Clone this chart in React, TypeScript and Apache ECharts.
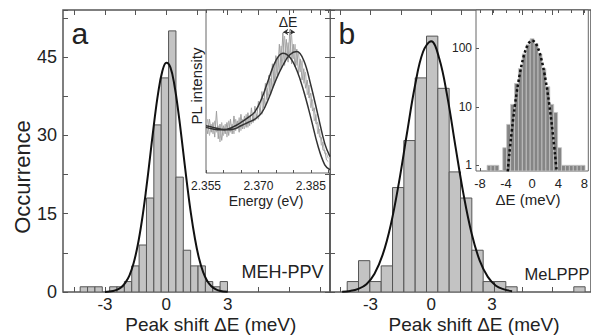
import React, { useEffect, useRef } from "react";
import * as echarts from "echarts";

// ---------- Panel a (MEH-PPV) histogram ----------
const aBinWidth = 0.36;
const aCenters = [-4.03, -3.67, -3.31, -2.95, -2.59, -2.23, -1.87, -1.51, -1.15, -0.79, -0.43, -0.07, 0.29, 0.65, 1.01, 1.37, 1.73, 2.09, 2.45, 2.81];
const aCounts = [1, 1, 1, 0, 1, 1, 2, 5, 9, 18, 32, 41, 50, 22, 8, 5, 5, 2, 1, 2];
// Gaussian fit
const aFitX = [-3.0, -2.6, -2.4, -2.2, -2.0, -1.8, -1.6, -1.4, -1.2, -1.0, -0.8, -0.6, -0.4, -0.2, 0, 0.2, 0.4, 0.6, 0.8, 1.0, 1.2, 1.4, 1.6, 1.8, 2.0, 2.2, 2.4, 2.6, 3.0];
const aFitY = [0.02, 0.2, 0.44, 0.9, 1.8, 3.2, 5.5, 8.9, 13.5, 19.2, 25.7, 32.3, 38.1, 42.2, 43.9, 43.0, 39.5, 34.1, 27.7, 21.1, 15.1, 10.2, 6.4, 3.8, 2.1, 1.1, 0.55, 0.25, 0.03];

// ---------- Panel b (MeLPPP) histogram ----------
const bBinWidth = 0.56;
const bCenters = [-3.87, -3.31, -2.75, -2.19, -1.63, -1.07, -0.51, 0.05, 0.61, 1.17, 1.73, 2.29, 2.85, 3.41, 3.97, 7.33];
const bCounts = [2, 6, 2, 5, 20, 29, 41, 49, 39, 23, 18, 8, 2, 2, 1, 1];
const bFitX = [-4.4, -4.0, -3.6, -3.2, -2.8, -2.4, -2.0, -1.6, -1.2, -0.8, -0.4, 0, 0.4, 0.8, 1.2, 1.6, 2.0, 2.4, 2.8, 3.2, 3.6, 4.0];
const bFitY = [0.07, 0.2, 0.6, 1.5, 3.5, 7.1, 12.8, 20.8, 30.3, 39.5, 46.0, 48.0, 44.7, 37.4, 27.9, 18.7, 11.2, 6.0, 2.9, 1.2, 0.5, 0.16];

// ---------- Inset a: PL spectra ----------
const specStart = 2.355;
const specStep = 0.0005;
const specNoisy = [
  0.30, 0.24, 0.33, 0.25, 0.31, 0.22, 0.38, 0.21, 0.30, 0.20,
  0.29, 0.24, 0.31, 0.23, 0.33, 0.24, 0.35, 0.26, 0.32, 0.25,
  0.36, 0.27, 0.35, 0.28, 0.37, 0.29, 0.40, 0.31, 0.41, 0.33,
  0.44, 0.36, 0.50, 0.40, 0.55, 0.45, 0.60, 0.48, 0.67, 0.54,
  0.72, 0.60, 0.79, 0.64, 0.86, 0.66, 0.82, 0.68, 0.88, 0.67,
  0.79, 0.65, 0.76, 0.61, 0.70, 0.57, 0.64, 0.52, 0.57, 0.46,
  0.49, 0.38, 0.40, 0.30, 0.31, 0.22, 0.22, 0.14, 0.14, 0.08, 0.07,
];
const specNoisy2 = [
  0.27, 0.33, 0.23, 0.30, 0.24, 0.32, 0.25, 0.29, 0.19, 0.31,
  0.23, 0.30, 0.22, 0.32, 0.25, 0.30, 0.24, 0.33, 0.27, 0.34,
  0.26, 0.33, 0.27, 0.36, 0.28, 0.35, 0.30, 0.37, 0.32, 0.36,
  0.33, 0.40, 0.36, 0.46, 0.41, 0.52, 0.47, 0.58, 0.52, 0.66,
  0.58, 0.71, 0.63, 0.78, 0.67, 0.84, 0.70, 0.80, 0.72, 0.85,
  0.70, 0.79, 0.66, 0.74, 0.62, 0.69, 0.55, 0.62, 0.48, 0.54,
  0.40, 0.45, 0.32, 0.36, 0.24, 0.27, 0.17, 0.19, 0.12, 0.12, 0.09,
];
const spec1X = [2.355, 2.357, 2.359, 2.361, 2.363, 2.365, 2.367, 2.369, 2.371, 2.373, 2.375, 2.377, 2.379, 2.381, 2.383, 2.385, 2.387, 2.389, 2.3905];
const spec1Y = [0.28, 0.27, 0.265, 0.268, 0.285, 0.31, 0.34, 0.375, 0.46, 0.58, 0.69, 0.735, 0.71, 0.63, 0.50, 0.34, 0.17, 0.05, 0.02];
const spec2X = [2.355, 2.357, 2.359, 2.361, 2.363, 2.365, 2.367, 2.369, 2.371, 2.373, 2.375, 2.377, 2.379, 2.381, 2.383, 2.385, 2.387, 2.389, 2.3905];
const spec2Y = [0.29, 0.28, 0.27, 0.265, 0.27, 0.29, 0.31, 0.33, 0.37, 0.46, 0.57, 0.66, 0.725, 0.745, 0.69, 0.54, 0.36, 0.18, 0.10];
const peakShift = [2.3771, 2.3804];
const arrowLevel = 0.865;

// ---------- Inset b: log histogram ----------
const cBinWidth = 0.6;
const cCenters = [-6.6, -6.0, -5.4, -4.2, -3.6, -3.0, -2.4, -1.8, -1.2, -0.6, 0, 0.6, 1.2, 1.8, 2.4, 3.0, 3.6, 4.2, 4.8, 5.4, 6.0, 6.6, 7.2, 7.8];
const cCounts = [1, 1, 1, 2, 5, 11, 25, 45, 80, 115, 145, 120, 80, 45, 22, 11, 8, 2, 1, 1, 1, 1, 1, 1];
const cFitX = [-3.75, -3.5, -3.25, -3.0, -2.75, -2.5, -2.25, -2.0, -1.75, -1.5, -1.25, -1.0, -0.75, -0.5, -0.25, 0, 0.25, 0.5, 0.75, 1.0, 1.25, 1.5, 1.75, 2.0, 2.25, 2.5, 2.75, 3.0, 3.25, 3.5, 3.75];
const cFitY = [0.79, 1.54, 2.85, 5.05, 8.54, 13.8, 21.3, 31.3, 44.1, 59.4, 76.3, 93.7, 109.9, 123.2, 131.9, 135, 131.9, 123.2, 109.9, 93.7, 76.3, 59.4, 44.1, 31.3, 21.3, 13.8, 8.54, 5.05, 2.85, 1.54, 0.79];

// tick values
const mainTicks = [-4.5, -3, -1.5, 0, 1.5, 3, 4.5, 6, 7.5];
const mainLabels = [-3, 0, 3];
const yLabelStep = 15;
const insetATicks = [2.355, 2.36, 2.365, 2.37, 2.375, 2.38, 2.385, 2.39];
const insetALabels = [2.355, 2.37, 2.385];
const insetBTicks = [-8, -6, -4, -2, 0, 2, 4, 6, 8];
const insetBLabels = [-8, -4, 0, 4, 8];

const FONT = "Liberation Sans";
const TXT = "#222";
const FRAME = "#555";

function pairs(xs: number[], ys: number[]) {
  return xs.map((x, i) => [x, ys[i]]);
}

function histRender(binWidth: number, base: number, fill: string, stroke: string, lw: number) {
  return (params: any, api: any) => {
    const c = api.value(0);
    const v = api.value(1);
    if (!(v > 0)) return { type: "group", children: [] };
    const p0 = api.coord([c - binWidth / 2, v]);
    const p1 = api.coord([c + binWidth / 2, base]);
    return {
      type: "rect",
      shape: { x: p0[0], y: p0[1], width: p1[0] - p0[0], height: p1[1] - p0[1] },
      style: { fill, stroke, lineWidth: lw },
    };
  };
}

function txt(text: string, x: number, y: number, fontSize: number, extra: any = {}) {
  return {
    type: "text",
    x,
    y,
    z: 100,
    rotation: extra.rotation || 0,
    style: {
      text,
      fontSize,
      fontFamily: FONT,
      fill: TXT,
      align: extra.align || "center",
      verticalAlign: "middle",
    },
  };
}

export default function App() {
  const ref = useRef<HTMLDivElement>(null);
  useEffect(() => {
    document.body.style.margin = "0";
    const chart = echarts.init(ref.current!, null, { renderer: "svg" });
    const tickStyle = { show: true, inside: true, length: 5, lineStyle: { color: FRAME, width: 1 } };
    const noLabel = { show: false };
    const noLine = { show: false, onZero: false };
    const option: any = {
      animation: false,
      textStyle: { fontFamily: FONT },
      grid: [
        { left: 63, top: 10, width: 267, height: 282, show: true, borderColor: FRAME, borderWidth: 1.5, backgroundColor: "transparent" },
        { left: 330, top: 10, width: 264, height: 282, show: true, borderColor: FRAME, borderWidth: 1.5, backgroundColor: "transparent" },
        { left: 206, top: 10, width: 124, height: 163, show: true, borderColor: "#666", borderWidth: 1, backgroundColor: "#fff" },
        { left: 476, top: 10, width: 118, height: 161, show: true, borderColor: "#666", borderWidth: 1, backgroundColor: "#fff" },
      ],
      xAxis: [
        {
          type: "value", gridIndex: 0, position: "bottom", min: -5.05, max: 8.0,
          axisLine: noLine, splitLine: { show: false },
          axisTick: { ...tickStyle, customValues: mainTicks },
          axisLabel: { customValues: mainLabels, fontSize: 17, color: TXT, margin: 4, fontFamily: FONT },
        },
        {
          type: "value", gridIndex: 0, position: "top", min: -5.05, max: 8.0,
          axisLine: noLine, splitLine: { show: false },
          axisTick: { ...tickStyle, customValues: mainTicks }, axisLabel: noLabel,
        },
        {
          type: "value", gridIndex: 1, position: "bottom", min: -5.0, max: 7.9,
          axisLine: noLine, splitLine: { show: false },
          axisTick: { ...tickStyle, customValues: mainTicks },
          axisLabel: { customValues: mainLabels, fontSize: 17, color: TXT, margin: 4, fontFamily: FONT },
        },
        {
          type: "value", gridIndex: 1, position: "top", min: -5.0, max: 7.9,
          axisLine: noLine, splitLine: { show: false },
          axisTick: { ...tickStyle, customValues: mainTicks }, axisLabel: noLabel,
        },
        {
          type: "value", gridIndex: 2, position: "bottom", min: 2.355, max: 2.3905,
          axisLine: noLine, splitLine: { show: false },
          axisTick: { ...tickStyle, length: 3, customValues: insetATicks },
          axisLabel: { customValues: insetALabels, fontSize: 12, color: TXT, margin: 7, fontFamily: FONT, formatter: (v: number) => v.toFixed(3) },
        },
        {
          type: "value", gridIndex: 2, position: "top", min: 2.355, max: 2.3905,
          axisLine: noLine, splitLine: { show: false },
          axisTick: { ...tickStyle, length: 3, customValues: insetATicks }, axisLabel: noLabel,
        },
        {
          type: "value", gridIndex: 3, position: "bottom", min: -8.6, max: 8.6,
          axisLine: noLine, splitLine: { show: false },
          axisTick: { ...tickStyle, length: 3, customValues: insetBTicks },
          axisLabel: { customValues: insetBLabels, fontSize: 13, color: TXT, margin: 6, fontFamily: FONT },
        },
        {
          type: "value", gridIndex: 3, position: "top", min: -8.6, max: 8.6,
          axisLine: noLine, splitLine: { show: false },
          axisTick: { ...tickStyle, length: 3, customValues: insetBTicks }, axisLabel: noLabel,
        },
      ],
      yAxis: [
        {
          type: "value", gridIndex: 0, position: "left", min: 0, max: 54, interval: 7.5,
          axisLine: noLine, splitLine: { show: false }, axisTick: tickStyle,
          axisLabel: {
            fontSize: 18, color: TXT, margin: 6, fontFamily: FONT,
            formatter: (v: number) => (Math.abs(v / yLabelStep - Math.round(v / yLabelStep)) < 1e-6 ? String(v) : ""),
          },
        },
        {
          type: "value", gridIndex: 0, position: "right", min: 0, max: 54, interval: 7.5,
          axisLine: noLine, splitLine: { show: false }, axisTick: tickStyle, axisLabel: noLabel,
        },
        {
          type: "value", gridIndex: 1, position: "left", min: 0, max: 54, interval: 7.5,
          axisLine: noLine, splitLine: { show: false }, axisTick: tickStyle, axisLabel: noLabel,
        },
        {
          type: "value", gridIndex: 2, position: "left", min: 0, max: 1,
          axisLine: noLine, splitLine: { show: false }, axisTick: { show: false }, axisLabel: noLabel,
        },
        {
          type: "log", gridIndex: 3, position: "left", min: 0.8, max: 450, logBase: 10,
          axisLine: noLine, splitLine: { show: false },
          axisTick: { ...tickStyle, length: 3 },
          axisLabel: { fontSize: 12, color: TXT, margin: 4, fontFamily: FONT, showMinLabel: false, showMaxLabel: false },
        },
      ],
      series: [
        {
          type: "custom", xAxisIndex: 0, yAxisIndex: 0, clip: true,
          renderItem: histRender(aBinWidth, 0, "#c3c3c3", "#555", 1),
          encode: { x: 0, y: 1 },
          data: pairs(aCenters, aCounts),
        },
        {
          type: "line", xAxisIndex: 0, yAxisIndex: 0, smooth: 0.4, showSymbol: false, symbol: "none",
          lineStyle: { color: "#111", width: 2 }, data: pairs(aFitX, aFitY), z: 5,
        },
        {
          type: "custom", xAxisIndex: 2, yAxisIndex: 2, clip: true,
          renderItem: histRender(bBinWidth, 0, "#c3c3c3", "#555", 1),
          encode: { x: 0, y: 1 },
          data: pairs(bCenters, bCounts),
        },
        {
          type: "line", xAxisIndex: 2, yAxisIndex: 2, smooth: 0.4, showSymbol: false, symbol: "none",
          lineStyle: { color: "#111", width: 2 }, data: pairs(bFitX, bFitY), z: 5,
        },
        {
          type: "line", xAxisIndex: 4, yAxisIndex: 3, showSymbol: false, symbol: "none", z: 10,
          lineStyle: { color: "#b4b4b4", width: 1 },
          data: specNoisy2.map((v, i) => [specStart + specStep * i, v]),
        },
        {
          type: "line", xAxisIndex: 4, yAxisIndex: 3, showSymbol: false, symbol: "none", z: 10,
          lineStyle: { color: "#a0a0a0", width: 1 },
          data: specNoisy.map((v, i) => [specStart + specStep * i, v]),
        },
        {
          type: "line", xAxisIndex: 4, yAxisIndex: 3, smooth: 0.4, showSymbol: false, symbol: "none", z: 11,
          lineStyle: { color: "#333", width: 1.5 }, data: pairs(spec1X, spec1Y),
        },
        {
          type: "line", xAxisIndex: 4, yAxisIndex: 3, smooth: 0.4, showSymbol: false, symbol: "none", z: 11,
          lineStyle: { color: "#333", width: 1.5 }, data: pairs(spec2X, spec2Y),
          markLine: {
            silent: true, symbol: ["arrow", "arrow"], symbolSize: [5, 5],
            lineStyle: { color: "#333", width: 1, type: "solid" },
            label: { show: false },
            data: [[{ coord: [peakShift[0], arrowLevel] }, { coord: [peakShift[1], arrowLevel] }]],
          },
        },
        {
          type: "custom", xAxisIndex: 6, yAxisIndex: 4, clip: true, z: 10,
          renderItem: histRender(cBinWidth, 0.8, "#858585", "#c4c4c4", 0.8),
          encode: { x: 0, y: 1 },
          data: pairs(cCenters, cCounts),
        },
        {
          type: "line", xAxisIndex: 6, yAxisIndex: 4, smooth: 0.3, showSymbol: false, symbol: "none", z: 12,
          lineStyle: { color: "#111", width: 2.5, type: "dotted" }, data: pairs(cFitX, cFitY),
        },
      ],
      graphic: [
        txt("a", 71.5, 33, 30, { align: "left" }),
        txt("b", 338.5, 33, 30, { align: "left" }),
        txt("Occurrence", 22, 177, 22, { rotation: Math.PI / 2 }),
        txt("Peak shift \u0394E (meV)", 210.8, 324, 19),
        txt("Peak shift \u0394E (meV)", 474, 324, 19),
        txt("MEH-PPV", 241.5, 272, 18, { align: "left" }),
        txt("MeLPPP", 524.5, 273.5, 16.5, { align: "left" }),
        txt("PL intensity", 196.5, 86, 15, { rotation: Math.PI / 2 }),
        txt("Energy (eV)", 266, 201, 14),
        txt("\u0394E", 288, 22, 14),
        txt("\u0394E (meV)", 528, 199, 15),
      ],
    };
    chart.setOption(option);
    return () => chart.dispose();
  }, []);
  return <div ref={ref} style={{ width: 591, height: 335 }} />;
}
